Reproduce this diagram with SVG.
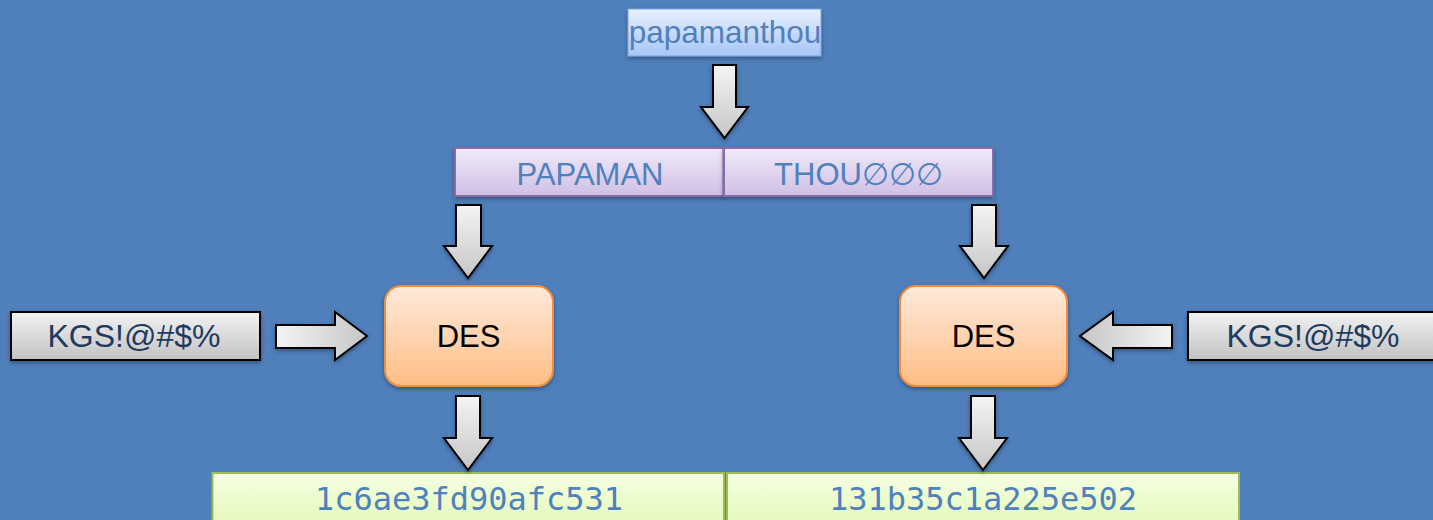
<svg xmlns="http://www.w3.org/2000/svg" width="1433" height="520" viewBox="0 0 1433 520">
<defs>
<linearGradient id="gBlue" x1="0" y1="0" x2="0" y2="1"><stop offset="0" stop-color="#e8f0fd"/><stop offset="1" stop-color="#a7c5f6"/></linearGradient>
<linearGradient id="gPurple" x1="0" y1="0" x2="0" y2="1"><stop offset="0" stop-color="#f0eaf8"/><stop offset="1" stop-color="#d0bfe6"/></linearGradient>
<linearGradient id="gOrange" x1="0" y1="0" x2="0" y2="1"><stop offset="0" stop-color="#ffeadb"/><stop offset="1" stop-color="#ffbd85"/></linearGradient>
<linearGradient id="gGrey" x1="0" y1="0" x2="0" y2="1"><stop offset="0" stop-color="#f2f2f2"/><stop offset="1" stop-color="#c2c2c2"/></linearGradient>
<linearGradient id="gGreen" x1="0" y1="0" x2="0" y2="1"><stop offset="0" stop-color="#f6ffe3"/><stop offset="1" stop-color="#e0f8b2"/></linearGradient>
<linearGradient id="gArrowV" x1="0" y1="0" x2="0" y2="1"><stop offset="0" stop-color="#f4f4f4"/><stop offset="1" stop-color="#c6c6c6"/></linearGradient>
<linearGradient id="gArrowR" x1="0" y1="0" x2="1" y2="0"><stop offset="0" stop-color="#f4f4f4"/><stop offset="1" stop-color="#c6c6c6"/></linearGradient>
<linearGradient id="gArrowL" x1="1" y1="0" x2="0" y2="0"><stop offset="0" stop-color="#f4f4f4"/><stop offset="1" stop-color="#c6c6c6"/></linearGradient>
<filter id="sh" x="-10%" y="-20%" width="120%" height="150%"><feDropShadow dx="0" dy="2" stdDeviation="2" flood-color="#000" flood-opacity="0.35"/></filter>
</defs>
<style>
.bg{fill:#4f80bc}
.arrow{stroke:#000;stroke-width:2;stroke-linejoin:miter}
.sans{font-family:"Liberation Sans",Arial,sans-serif}
.mono{font-family:"DejaVu Sans Mono",monospace;font-size:32px;fill:#4f81bd}
.blueTxt{fill:#4f81bd}
</style>
<rect class="bg" x="0" y="0" width="1433" height="520"/>

<g id="input">
<rect x="628" y="9" width="193" height="47" fill="url(#gBlue)" stroke="#7fa6dc" stroke-width="1" filter="url(#sh)"/>
<text x="725" y="43" text-anchor="middle" class="sans blueTxt" font-size="31.5">papamanthou</text>
</g>

<g id="half-left">
<rect x="455" y="148" width="268.5" height="48" fill="url(#gPurple)" stroke="#8a6aab" stroke-width="2" filter="url(#sh)"/>
<text x="590" y="185" text-anchor="middle" class="sans blueTxt" font-size="31">PAPAMAN</text>
</g>
<g id="half-right">
<rect x="724" y="148" width="269" height="48" fill="url(#gPurple)" stroke="#8a6aab" stroke-width="2" filter="url(#sh)"/>
<text x="858.5" y="185" text-anchor="middle" class="sans blueTxt" font-size="31">THOU<tspan font-family="DejaVu Sans,sans-serif" font-weight="200">∅∅∅</tspan></text>
</g>

<g id="key-left">
<rect x="11" y="312" width="249" height="48" fill="url(#gGrey)" stroke="#000" stroke-width="2" filter="url(#sh)"/>
<text x="134" y="347" text-anchor="middle" class="sans" font-size="32" fill="#1f3a60">KGS!@#$%</text>
</g>
<g id="key-right">
<rect x="1188" y="312" width="249" height="48" fill="url(#gGrey)" stroke="#000" stroke-width="2" filter="url(#sh)"/>
<text x="1313" y="347" text-anchor="middle" class="sans" font-size="32" fill="#1f3a60">KGS!@#$%</text>
</g>

<g id="des-left">
<rect x="385" y="286" width="168" height="100" rx="16" ry="16" fill="url(#gOrange)" stroke="#f08c3c" stroke-width="2" filter="url(#sh)"/>
<text x="468.5" y="347" text-anchor="middle" class="sans" font-size="31" fill="#000">DES</text>
</g>
<g id="des-right">
<rect x="900" y="286" width="167" height="100" rx="16" ry="16" fill="url(#gOrange)" stroke="#f08c3c" stroke-width="2" filter="url(#sh)"/>
<text x="983.5" y="347" text-anchor="middle" class="sans" font-size="31" fill="#000">DES</text>
</g>

<g id="out-left">
<rect x="212.5" y="473" width="511.5" height="60" fill="url(#gGreen)" stroke="#9bbb59" stroke-width="2"/>
<text x="469" y="510" text-anchor="middle" class="mono">1c6ae3fd90afc531</text>
</g>
<g id="out-right">
<rect x="727" y="473" width="512" height="60" fill="url(#gGreen)" stroke="#9bbb59" stroke-width="2"/>
<text x="983" y="510" text-anchor="middle" class="mono">131b35c1a225e502</text>
</g>

<g id="connectors" filter="url(#sh)">
<polygon class="arrow" fill="url(#gArrowV)" points="713,65 736,65 736,107 748,107 724.5,138 701,107 713,107"/>
<polygon class="arrow" fill="url(#gArrowV)" points="456,205 481,205 481,246 492,246 468,278 444,246 456,246"/>
<polygon class="arrow" fill="url(#gArrowV)" points="972,205 996,205 996,246 1008,246 984,278 960,246 972,246"/>
<polygon class="arrow" fill="url(#gArrowR)" points="276,325 335,325 335,312 367,336 335,360 335,348 276,348"/>
<polygon class="arrow" fill="url(#gArrowL)" points="1172,325 1113,325 1113,312 1080,336 1113,360 1113,348 1172,348"/>
<polygon class="arrow" fill="url(#gArrowV)" points="456,396 480,396 480,438 492,438 468,470 444,438 456,438"/>
<polygon class="arrow" fill="url(#gArrowV)" points="971,396 995,396 995,438 1007,438 983,470 959,438 971,438"/>
</g>
</svg>
